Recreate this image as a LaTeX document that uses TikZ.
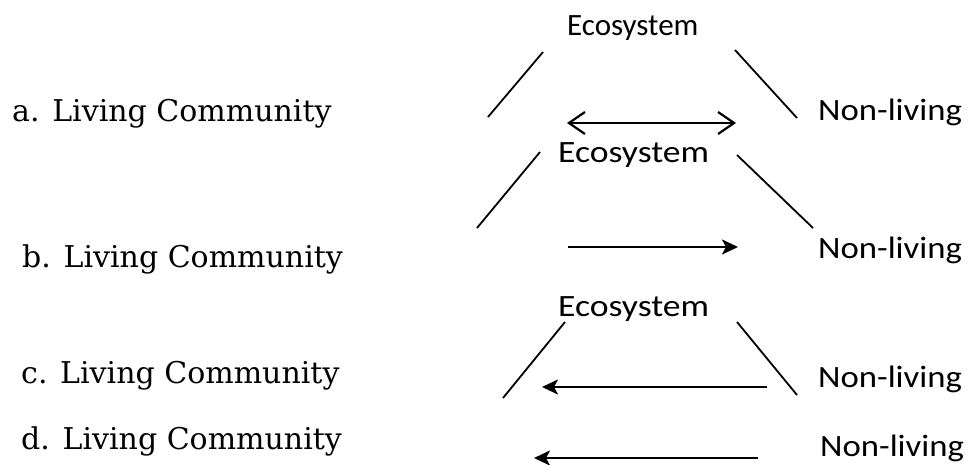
\documentclass[tikz,border=0pt]{standalone}
\usepackage{fontspec}
\setmainfont{DejaVu Serif}
\newfontfamily\calfont{Carlito}
\usetikzlibrary{arrows.meta}
\tikzset{
  lefttxt/.style={anchor=base west, inner sep=0pt, font=\fontsize{30}{33}\selectfont},
  ecotxt/.style={anchor=base west, inner sep=0pt, font=\calfont\fontsize{31}{34}\selectfont},
  nltxt/.style={anchor=base west, inner sep=0pt, font=\calfont\fontsize{31}{34}\selectfont},
  diag/.style={line width=1.8pt, black},
  arr/.style={line width=2.4pt, black},
  openhead/.style={arr, {Straight Barb[length=16pt,width=22pt,line width=2.2pt]}-{Straight Barb[length=16pt,width=22pt,line width=2.2pt]}},
  fillhead/.style={arr, -{Stealth[length=16pt,width=15pt,inset=4pt]}},
}
\begin{document}
\begin{tikzpicture}[x=1pt,y=-1pt]
\useasboundingbox (0,0) rectangle (970,464);
% left labels
\node[lefttxt] (la) at (12,121) {a. Living Community};
\node[lefttxt] (lb) at (22,267) {b. Living Community};
\node[lefttxt] (lc) at (21,383) {c. Living Community};
\node[lefttxt] (ld) at (21,449) {d. Living Community};
% ecosystem labels
\node[ecotxt] (ea) at (567,35) {Ecosystem};
\node[ecotxt] (eb) at (558,162) {\scalebox{1.15}[1]{Ecosystem}};
\node[ecotxt] (ec) at (558,316) {\scalebox{1.15}[1]{Ecosystem}};
% non-living labels
\node[nltxt] (na) at (818,120) {\scalebox{1.12}[1]{Non-living}};
\node[nltxt] (nb) at (818,258) {\scalebox{1.12}[1]{Non-living}};
\node[nltxt] (nc) at (818,387) {\scalebox{1.12}[1]{Non-living}};
\node[nltxt] (nd) at (820,456) {\scalebox{1.12}[1]{Non-living}};
% line end points
\coordinate (a1) at (543,52);  \coordinate (a2) at (488,117);
\coordinate (a3) at (735,50);  \coordinate (a4) at (797,118);
\coordinate (b1) at (540,152); \coordinate (b2) at (477,228);
\coordinate (b3) at (737,155); \coordinate (b4) at (813,228);
\coordinate (c1) at (565,322); \coordinate (c2) at (503,398);
\coordinate (c3) at (737,322); \coordinate (c4) at (797,395);
% arrow end points
\coordinate (pa1) at (567,123); \coordinate (pa2) at (736,123);
\coordinate (pb1) at (568,247); \coordinate (pb2) at (738,247);
\coordinate (pc1) at (767,387); \coordinate (pc2) at (542,387);
\coordinate (pd1) at (758,458); \coordinate (pd2) at (534,458);
% diagonals
\draw[diag] (a1) -- (a2);
\draw[diag] (a3) -- (a4);
\draw[diag] (b1) -- (b2);
\draw[diag] (b3) -- (b4);
\draw[diag] (c1) -- (c2);
\draw[diag] (c3) -- (c4);
% arrows
\draw[openhead] (pa1) -- (pa2);
\draw[fillhead] (pb1) -- (pb2);
\draw[fillhead] (pc1) -- (pc2);
\draw[fillhead] (pd1) -- (pd2);
\end{tikzpicture}
\end{document}
